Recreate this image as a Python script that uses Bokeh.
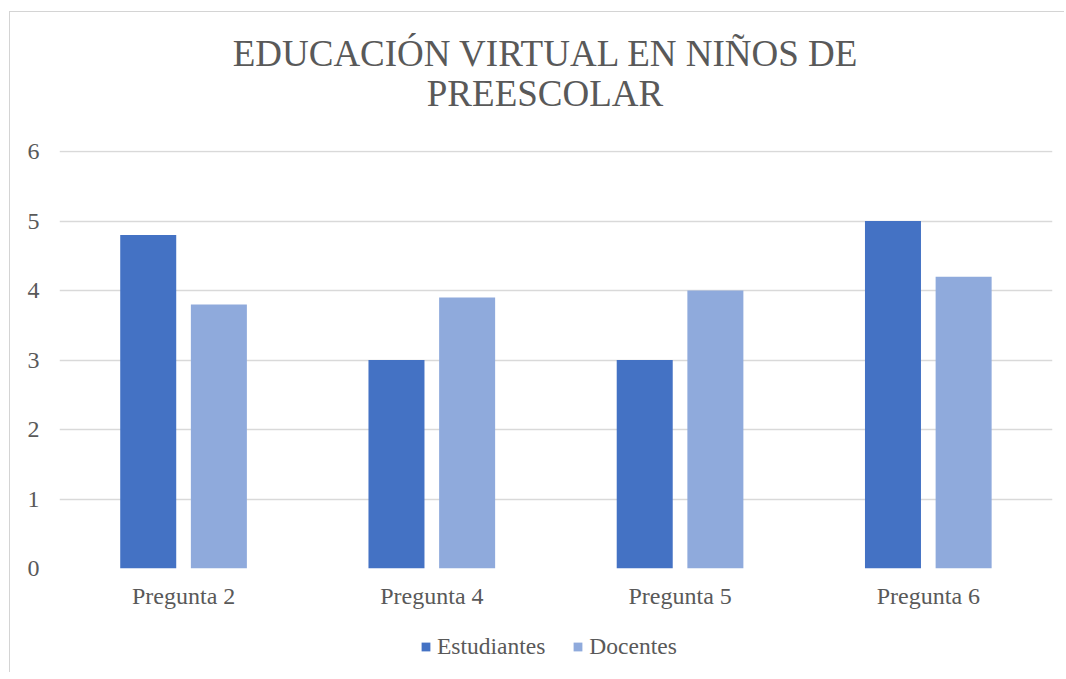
from bokeh.plotting import figure
from bokeh.models import (ColumnDataSource, FactorRange, Range1d, FixedTicker,
                          Legend, LegendItem, Div)
from bokeh.layouts import column
from bokeh.transform import dodge
from bokeh.embed import file_html
from bokeh.resources import INLINE

categories = ["Pregunta 2", "Pregunta 4", "Pregunta 5", "Pregunta 6"]
estudiantes = [4.8, 3.0, 3.0, 5.0]
docentes = [3.8, 3.9, 4.0, 4.2]
series_names = ["Estudiantes", "Docentes"]
series_colors = ["#4472C4", "#8FAADC"]
y_ticks = [0, 1, 2, 3, 4, 5, 6]
title_lines = ["EDUCACIÓN VIRTUAL EN NIÑOS DE", "PREESCOLAR"]

FONT = "Liberation Serif"
TXT = "#595959"
GRID = "#d9d9d9"

# ---- title ----
title_html = (
    '<div style="margin:0; box-sizing:border-box; width:1054px; padding-left:16px; '
    'padding-top:22px; text-align:center; font-family:\'Liberation Serif\'; '
    'font-size:37px; line-height:40px; color:#595959; white-space:nowrap;">'
    + title_lines[0] + "<br>" + title_lines[1] + "</div>"
)
title_div = Div(text=title_html, width=1054, height=119, margin=0)

# ---- main chart ----
src = ColumnDataSource(dict(cat=categories, est=estudiantes, doc=docentes))

p = figure(x_range=FactorRange(*categories, range_padding=0), y_range=Range1d(0, 6.015),
           width=1054, height=487, output_backend="svg", toolbar_location=None,
           min_border_left=49, min_border_right=12, min_border_top=19, min_border_bottom=50)
p.outline_line_color = None
p.margin = 0

r1 = p.vbar(x=dodge("cat", -0.1426, range=p.x_range), top="est", width=0.2256, source=src,
            fill_color=series_colors[0], line_color=None)
r2 = p.vbar(x=dodge("cat", 0.142, range=p.x_range), top="doc", width=0.2256, source=src,
            fill_color=series_colors[1], line_color=None)

p.yaxis.ticker = FixedTicker(ticks=y_ticks)
for ax in (p.xaxis[0], p.yaxis[0]):
    ax.axis_line_color = None
    ax.major_tick_line_color = None
    ax.minor_tick_line_color = None
    ax.major_tick_out = 0
    ax.major_tick_in = 0
    ax.minor_tick_out = 0
    ax.minor_tick_in = 0
    ax.major_label_text_font = FONT
    ax.major_label_text_font_size = "24px"
    ax.major_label_text_color = TXT
p.yaxis.major_label_standoff = 20
p.xaxis.major_label_standoff = 14

p.xgrid.grid_line_color = None
p.ygrid.grid_line_color = GRID
p.ygrid.grid_line_width = 1.5

# ---- legend (separate strip below the chart) ----
lf = figure(width=1054, height=54, output_backend="svg", toolbar_location=None,
            x_range=Range1d(0, 1), y_range=Range1d(0, 1),
            x_axis_type=None, y_axis_type=None,
            min_border_left=0, min_border_right=0, min_border_top=0, min_border_bottom=0)
lf.outline_line_color = None
lf.xgrid.grid_line_color = None
lf.ygrid.grid_line_color = None
lf.margin = 0
nan = float("nan")
d1 = lf.vbar(x=[nan], top=[nan], width=0.5, fill_color=series_colors[0], line_color=None)
d2 = lf.vbar(x=[nan], top=[nan], width=0.5, fill_color=series_colors[1], line_color=None)

legend = Legend(items=[LegendItem(label=series_names[0], renderers=[d1]),
                       LegendItem(label=series_names[1], renderers=[d2])],
                orientation="horizontal", location=(361, 12),
                label_text_font=FONT, label_text_font_size="23.5px", label_text_color=TXT,
                glyph_width=11, glyph_height=11, label_standoff=6, spacing=27,
                border_line_color=None, background_fill_alpha=0, margin=0, padding=0)
lf.add_layout(legend)

layout = column(title_div, p, lf, spacing=0,
                styles={"margin-left": "9px", "margin-top": "11px",
                        "border-left": "1px solid #d4d4d4",
                        "border-top": "1px solid #d4d4d4"})

open("out.html", "w").write(file_html(layout, INLINE))
